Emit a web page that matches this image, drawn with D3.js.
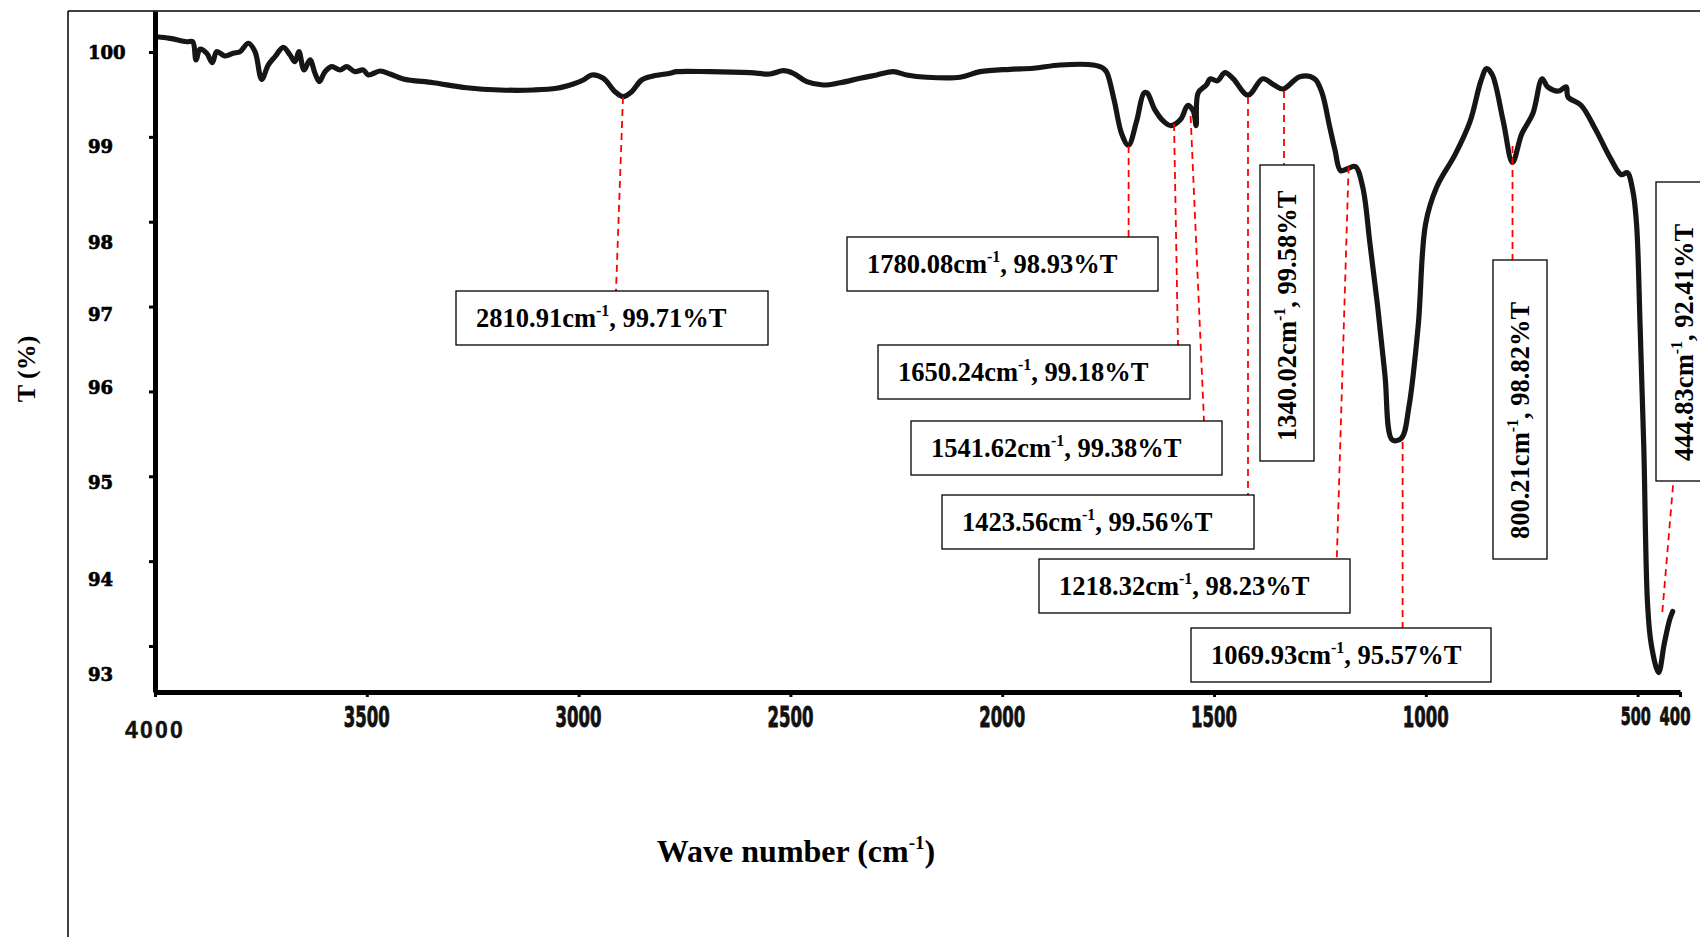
<!DOCTYPE html>
<html><head><meta charset="utf-8">
<script src="https://cdn.jsdelivr.net/npm/d3@7"></script>
<style>html,body{margin:0;padding:0;background:#fff;} svg{display:block;background:#fff}</style>
</head><body>
<svg id="chart" width="1700" height="937"></svg>
<script>
// ---------- data ----------
const wavenumber = [
 3996.0,3964.6,3925.2,3911.0,3903.2,3893.8,3877.9,3864.7,3854.3,3834.7,
 3815.2,3799.3,3779.7,3763.9,3748.1,3732.5,3716.7,3697.1,3681.3,3669.5,
 3660.1,3648.3,3634.1,3622.3,3612.1,3598.7,3582.9,3563.3,3547.4,3527.9,
 3508.3,3496.5,3468.8,3445.2,3413.8,3343.0,3264.2,3185.6,3106.9,3051.7,
 3012.5,2988.9,2969.1,2941.7,2914.1,2894.5,2874.6,2851.1,2823.7,2784.2,
 2768.4,2689.8,2595.4,2548.2,2516.8,2493.2,2461.5,2422.4,2382.9,2335.7,
 2296.3,2257.1,2225.5,2178.3,2099.6,2052.4,1981.6,1926.6,1863.6,1784.9,
 1761.3,1752.8,1735.4,1717.9,1702.1,1683.0,1665.4,1657.9,1640.2,1618.5,
 1601.3,1579.1,1561.7,1548.7,1542.3,1537.6,1518.0,1509.3,1491.8,1474.3,
 1454.7,1419.8,1384.8,1358.6,1336.9,1297.5,1262.5,1245.1,1227.6,1214.4,
 1201.4,1184.0,1166.5,1149.0,1131.8,1114.1,1096.6,1079.1,1057.4,1040.0,
 1018.0,1000.5,974.3,930.7,895.7,869.8,856.5,843.3,817.1,795.4,
 773.6,747.4,725.5,712.5,686.3,668.6,664.4,633.7,599.0,564.1,
 538.5,524.6,511.3,502.6,494.2,485.4,476.7,468.0,450.6,437.3,
 424.3,417.3
];
const transmittance = [
 100.180,100.161,100.121,100.121,99.906,100.032,99.985,99.874,100.004,99.953,
 99.985,100.004,100.103,100.004,99.678,99.847,99.945,100.055,99.965,99.886,
 100.004,99.788,99.906,99.749,99.650,99.768,99.827,99.788,99.827,99.768,
 99.788,99.729,99.776,99.741,99.682,99.638,99.579,99.552,99.552,99.572,
 99.623,99.670,99.729,99.690,99.532,99.473,99.532,99.670,99.717,99.749,
 99.768,99.768,99.756,99.741,99.780,99.749,99.650,99.611,99.638,99.690,
 99.729,99.768,99.729,99.702,99.702,99.768,99.796,99.808,99.847,99.847,
 99.808,99.756,99.423,99.034,98.901,99.180,99.517,99.517,99.324,99.180,
 99.132,99.203,99.372,99.300,99.132,99.517,99.612,99.684,99.661,99.756,
 99.684,99.492,99.684,99.612,99.564,99.709,99.684,99.517,99.132,98.843,
 98.602,98.626,98.651,98.409,97.737,97.019,96.197,95.428,95.451,95.817,
 96.775,97.977,98.409,98.794,99.180,99.661,99.804,99.733,99.180,98.699,
 99.035,99.275,99.684,99.589,99.540,99.589,99.470,99.372,99.083,98.746,
 98.554,98.578,98.362,97.977,96.775,95.333,93.507,93.024,92.686,93.024,
 93.312,93.408
];
const xTickValues = [4000,3500,3000,2500,2000,1500,1000,500,400];
const yTickValues = [100,99,98,97,96,95,94,93];
// points where each red leader line touches the spectrum
const peakWavenumber    = [2895.2,1701.6,1594.4,1555.3,1419.8,1334.8,1182.3,1054.8,795.4,441.7];
const peakTransmittance = [99.470,98.892,99.152,99.246,99.470,99.540,98.651,95.404,98.892,93.401];
// annotation texts
const peakLabelWn = ["2810.91","1780.08","1650.24","1541.62","1423.56","1340.02","1218.32","1069.93","800.21","444.83"];
const peakLabelT  = ["99.71","98.93","99.18","99.38","99.56","99.58","98.23","95.57","98.82","92.41"];

// ---------- layout ----------
const W = 1700, H = 937;
const svg = d3.select("#chart");
const x = d3.scaleLinear().domain([4000, 400]).range([155, 1680]);
const y = d3.scaleLinear().domain([92.458, 100.483]).range([692, 11]);
// the printed y labels sit at irregular heights in the original figure
const yLabelPos = d3.scaleLinear().domain(yTickValues).range([53,147,243,315,388,483,580,675]);

const boxLayout = [
 {x:456, y:291, w:312, h:54, rot:false, ax:616,    ay:291},
 {x:847, y:237, w:311, h:54, rot:false, ax:1128.6, ay:237},
 {x:878, y:345, w:312, h:54, rot:false, ax:1178,   ay:345},
 {x:911, y:421, w:311, h:54, rot:false, ax:1204,   ay:421},
 {x:942, y:495, w:312, h:54, rot:false, ax:1248,   ay:495},
 {x:1260,y:165, w:54,  h:296,rot:true,  ax:1284,   ay:165},
 {x:1039,y:559, w:311, h:54, rot:false, ax:1336.8, ay:559},
 {x:1191,y:628, w:300, h:54, rot:false, ax:1402.6, ay:628},
 {x:1493,y:260, w:54,  h:299,rot:true,  ax:1512.5, ay:260},
 {x:1656,y:182, w:56,  h:299,rot:true,  ax:1673.4, ay:481}
];

// outer frame lines
svg.append("line").attr("x1",68).attr("y1",11).attr("x2",68).attr("y2",H)
  .attr("stroke","#000").attr("stroke-width",1.5);
svg.append("line").attr("x1",68).attr("y1",11).attr("x2",W).attr("y2",11)
  .attr("stroke","#000").attr("stroke-width",1.5);

// spectrum
const pts = wavenumber.map((w,i)=>[w, transmittance[i]]);
const line = d3.line().x(d=>x(d[0])).y(d=>y(d[1])).curve(d3.curveCatmullRom.alpha(0.5));
svg.append("path").datum(pts).attr("d", line)
  .attr("fill","none").attr("stroke","#161616").attr("stroke-width",5.2)
  .attr("stroke-linejoin","round").attr("stroke-linecap","round");

// axes
const yAxis = svg.append("g").attr("transform","translate(155,0)")
  .call(d3.axisLeft(y).tickValues(yTickValues).tickSize(6).tickSizeOuter(0).tickFormat(""));
yAxis.select(".domain").attr("stroke","#000").attr("stroke-width",5);
yAxis.selectAll(".tick line").attr("stroke","#000").attr("stroke-width",3);

const xAxis = svg.append("g").attr("transform","translate(0,692)")
  .call(d3.axisBottom(x).tickValues(xTickValues).tickSize(5).tickSizeOuter(0).tickFormat(""));
xAxis.select(".domain").attr("stroke","#000").attr("stroke-width",5);
xAxis.selectAll(".tick line").attr("stroke","#000").attr("stroke-width",3);

// y tick labels
svg.append("g").selectAll("text").data(yTickValues).join("text")
  .attr("x",88).attr("y",d=>yLabelPos(d)).attr("dy","0.36em")
  .attr("font-family","'DejaVu Serif',serif").attr("font-weight","bold")
  .attr("font-size",18).attr("fill","#000")
  .attr("stroke","#000").attr("stroke-width",0.7).text(d=>d);

// x tick labels (condensed heavy digits, squeezed horizontally)
const xLabelShift = v => v===500 ? -2 : (v===400 ? -5 : 0);
const xLabelWidth = v => v>=1000 ? 46 : (v===500 ? 30 : 31);
const xLabels = svg.append("g");
xTickValues.forEach(v=>{
  if (v===4000) {
    const t = xLabels.append("text").attr("x", x(v)).attr("y", 738)
      .attr("text-anchor","middle").attr("font-family","'Liberation Sans',Arial,sans-serif")
      .attr("font-weight","bold").attr("font-size",23).attr("fill","#111")
      .attr("stroke","#111").attr("stroke-width",0.4).text(v);
    const nat = t.node().getComputedTextLength();
    t.attr("letter-spacing", Math.max(0,(60-nat)/4) + "px");
    return;
  }
  const t = xLabels.append("text").attr("x",0).attr("y",0)
    .attr("text-anchor","middle").attr("font-family","'DejaVu Sans',sans-serif")
    .attr("font-weight","bold").attr("font-size", v>=1000 ? 28 : 25)
    .attr("fill","#111").attr("stroke","#111").attr("stroke-width",0.9).text(v);
  const nat = t.node().getComputedTextLength();
  const sx = xLabelWidth(v) / nat;
  t.attr("transform", `translate(${x(v) + xLabelShift(v)},${v>=1000 ? 727 : 725}) scale(${sx},1)`);
});

// axis titles
svg.append("text").attr("transform","translate(35,369) rotate(-90)")
  .attr("text-anchor","middle").attr("font-family","'Liberation Serif','Times New Roman',serif")
  .attr("font-weight","bold").attr("font-size",26).text("T (%)");
const xt = svg.append("text").attr("x",796).attr("y",862).attr("text-anchor","middle")
  .attr("font-family","'Liberation Serif','Times New Roman',serif")
  .attr("font-weight","bold").attr("font-size",32);
xt.append("tspan").text("Wave number (cm");
xt.append("tspan").attr("font-size",19).attr("dy",-13).text("-1");
xt.append("tspan").attr("dy",13).text(")");

// annotations
const ann = svg.append("g");
peakLabelWn.forEach((wn,i)=>{
  const b = boxLayout[i];
  ann.append("line")
    .attr("x1", x(peakWavenumber[i])).attr("y1", y(peakTransmittance[i]))
    .attr("x2", b.ax).attr("y2", b.ay)
    .attr("stroke","#ff0000").attr("stroke-width",1.8).attr("stroke-dasharray","7,5");
});
peakLabelWn.forEach((wn,i)=>{
  const b = boxLayout[i];
  ann.append("rect").attr("x",b.x).attr("y",b.y).attr("width",b.w).attr("height",b.h)
    .attr("fill","#fff").attr("stroke","#000").attr("stroke-width",1.3);
  const t = ann.append("text")
    .attr("font-family","'Liberation Serif','Times New Roman',serif")
    .attr("font-weight","bold").attr("font-size",26.5).attr("fill","#000");
  if (b.rot) t.attr("transform",`translate(${b.x + b.w/2 + 9},${b.y + b.h - 20}) rotate(-90)`);
  else t.attr("x", b.x + 20).attr("y", b.y + b.h/2 + 9);
  t.append("tspan").text(wn + "cm");
  t.append("tspan").attr("font-size",16).attr("dy",-11).text("-1");
  t.append("tspan").attr("dy",11).text(", " + peakLabelT[i] + "%T");
});
</script>
</body></html>
